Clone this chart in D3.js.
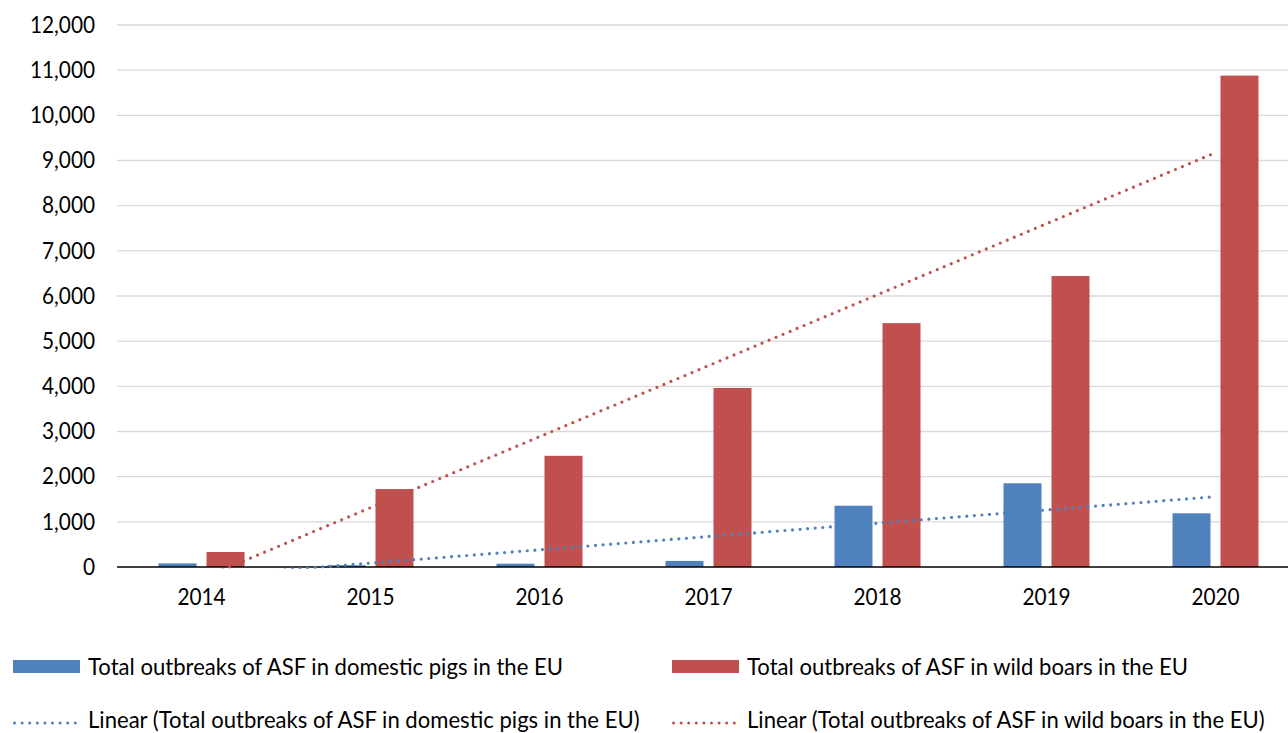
<!DOCTYPE html>
<html>
<head>
<meta charset="utf-8">
<script src="https://cdn.jsdelivr.net/npm/d3@7"></script>
<style>
  html, body { margin: 0; padding: 0; background: #fff; }
  svg { display: block; }
  text { font-family: Lato, "Open Sans", sans-serif; fill: #000; }
</style>
</head>
<body>
<svg id="chart" width="1288" height="733"></svg>
<script>
// ASF outbreaks in the EU, 2014-2020
const years = ["2014", "2015", "2016", "2017", "2018", "2019", "2020"];
const domesticPigs = [80, 40, 73, 135, 1357, 1853, 1189];
const wildBoars = [332, 1725, 2462, 3963, 5400, 6442, 10880];
const yTicks = [0, 1000, 2000, 3000, 4000, 5000, 6000, 7000, 8000, 9000, 10000, 11000, 12000];
const seriesNames = [
  "Total outbreaks of ASF in domestic pigs in the EU",
  "Total outbreaks of ASF in wild boars in the EU"
];
const colors = ["#4f81bd", "#c0504d"];

const svg = d3.select("#chart");
const tickFont = 20.8;
const legendFont = 22.1;
const stretch = 1.07;

const x0 = d3.scaleBand().domain(years).range([117, 1300]).padding(0);
const x1 = d3.scaleBand().domain([0, 1]).range([-43, 43]).paddingInner(0.2083);
const y = d3.scaleLinear().domain([0, 12000]).range([567, 25]);

// text helper with the tall, narrow look of the original typeface
function label(g, tx, ty, str, anchor, size) {
  return g.append("text")
    .attr("transform", `translate(${tx},${ty}) scale(1,${stretch})`)
    .attr("text-anchor", anchor)
    .attr("dy", "0.35em")
    .style("font-size", size + "px")
    .text(str);
}

// gridlines
const grid = svg.append("g");
grid.selectAll("line").data(yTicks.filter(d => d > 0)).join("line")
  .attr("x1", 117).attr("x2", 1300)
  .attr("y1", d => y(d)).attr("y2", d => y(d))
  .attr("stroke", "#d9d9d9").attr("stroke-width", 1.3);

// y tick labels
const yl = svg.append("g");
yTicks.forEach(t => label(yl, 95, y(t), d3.format(",")(t), "end", tickFont));

// bars
const series = [domesticPigs, wildBoars];
const bars = svg.append("g");
series.forEach((vals, si) => {
  bars.append("g").selectAll("rect").data(vals).join("rect")
    .attr("x", (d, i) => x0(years[i]) + x0.bandwidth() / 2 + x1(si))
    .attr("width", x1.bandwidth())
    .attr("y", d => y(d))
    .attr("height", d => y(0) - y(d))
    .attr("fill", colors[si]);
});

// x axis line
svg.append("line")
  .attr("x1", 117).attr("x2", 1300)
  .attr("y1", y(0)).attr("y2", y(0))
  .attr("stroke", "#000").attr("stroke-width", 1.5);

// x labels
const xl = svg.append("g");
years.forEach(yr => label(xl, x0(yr) + x0.bandwidth() / 2, 597, yr, "middle", tickFont));

// linear trendlines (least squares over category index), clipped to the plot area
svg.append("clipPath").attr("id", "plotClip")
  .append("rect").attr("x", 117).attr("y", 0).attr("width", 1183).attr("height", y(0) + 1.8);

function fit(vals) {
  const xs = vals.map((d, i) => i + 1);
  const mx = d3.mean(xs), my = d3.mean(vals);
  const slope = d3.sum(xs, (xv, i) => (xv - mx) * (vals[i] - my)) / d3.sum(xs, xv => (xv - mx) ** 2);
  return xv => my + slope * (xv - mx);
}
const cx = i => x0(years[i]) + x0.bandwidth() / 2;
const trends = svg.append("g").attr("clip-path", "url(#plotClip)");
series.forEach((vals, si) => {
  const f = fit(vals);
  const pts = [[cx(0), y(f(1))], [cx(vals.length - 1), y(f(vals.length))]];
  trends.append("path")
    .attr("d", d3.line()(pts))
    .attr("fill", "none")
    .attr("stroke", colors[si])
    .attr("stroke-width", 3.2)
    .attr("stroke-linecap", "round")
    .attr("stroke-dasharray", "0 7.6");
});

// legend
const legend = svg.append("g");
const legendX = [13, 672];
const textX = [88, 747];
seriesNames.forEach((name, si) => {
  legend.append("rect")
    .attr("x", legendX[si]).attr("y", 660).attr("width", 67).attr("height", 13)
    .attr("fill", colors[si]);
  label(legend, textX[si], 667, name, "start", legendFont);
  legend.append("line")
    .attr("x1", legendX[si] + 1.5).attr("x2", legendX[si] + 66)
    .attr("y1", 723).attr("y2", 723)
    .attr("stroke", colors[si]).attr("stroke-width", 3)
    .attr("stroke-linecap", "round").attr("stroke-dasharray", "0 7.6");
  label(legend, textX[si], 720, "Linear (" + name + ")", "start", legendFont);
});
</script>
</body>
</html>
